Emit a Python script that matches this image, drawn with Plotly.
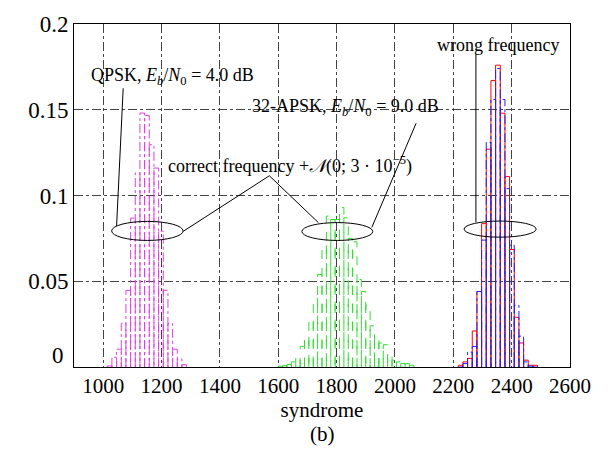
import plotly.graph_objects as go

# ---------------- data ----------------
qpsk_centers = [1022, 1038, 1054, 1070, 1086, 1102, 1118, 1134, 1150, 1166, 1182, 1198, 1214, 1230, 1246, 1262, 1278]
qpsk_values = [0.0006, 0.0057, 0.0104, 0.0255, 0.0447, 0.0868, 0.1132, 0.1481, 0.1466, 0.1296, 0.1160,
               0.0792, 0.0447, 0.0255, 0.0104, 0.0047, 0.0013]
qpsk_width = 16

apsk_centers = [1607.5 + 15 * i for i in range(31)]
apsk_values = [0.0005, 0.0008, 0.0015, 0.003, 0.006, 0.012, 0.018, 0.028, 0.040, 0.054, 0.071,
               0.088, 0.086, 0.086, 0.093, 0.087, 0.075, 0.073, 0.051, 0.044, 0.036, 0.024,
               0.017, 0.014, 0.013, 0.007, 0.004, 0.003, 0.002, 0.002, 0.001]
apsk_width = 15

wrong_centers = [2225, 2241, 2257, 2273, 2289, 2305, 2321, 2337, 2353, 2369, 2385, 2401, 2417, 2433, 2449, 2465, 2481]
wrong_red = [0.001, 0.003, 0.005, 0.021, 0.044, 0.0836, 0.127, 0.167, 0.176, 0.148, 0.111, 0.0685,
             0.029, 0.014, 0.004, 0.001, 0.001]
wrong_blue = [0.0, 0.002, 0.0087, 0.012, 0.044, 0.074, 0.131, 0.156, 0.174, 0.156, 0.104, 0.071,
              0.036, 0.018, 0.003, 0.0005, 0.0]
wrong_width = 16

x_ticks = [1000, 1200, 1400, 1600, 1800, 2000, 2200, 2400, 2600]
y_ticks = [0, 0.05, 0.1, 0.15, 0.2]
y_ticktext = ["", "0.05", "0.1", "0.15", "0.2"]


def outline(centers, values, width):
    xs, ys = [], []
    for c, v in zip(centers, values):
        l, r = c - width / 2, c + width / 2
        xs += [l, l, r, r, None]
        ys += [0, v, v, 0, None]
    return xs, ys


fig = go.Figure()

for centers, values, width, color, dash in [
    (qpsk_centers, qpsk_values, qpsk_width, "#e040e0", "dashdot"),
    (apsk_centers, apsk_values, apsk_width, "#33dd33", "dash"),
    (wrong_centers, wrong_red, wrong_width, "#ff0000", "solid"),
    (wrong_centers, wrong_blue, wrong_width, "#2020ff", "dashdot"),
]:
    xs, ys = outline(centers, values, width)
    fig.add_trace(go.Scatter(x=xs, y=ys, mode="lines",
                             line=dict(color=color, width=1, dash=dash),
                             hoverinfo="skip", showlegend=False))

FONT = "Liberation Serif"
ann_font = dict(family=FONT, size=18, color="black")
xtick_font = dict(family=FONT, size=21, color="black")
ytick_font = dict(family=FONT, size=23, color="black")

# annotation ellipses (data coords)
ellipses = [(1029, 1274, 0.0738, 0.0849), (1681, 1924, 0.0738, 0.0842), (2237, 2484, 0.0757, 0.0851)]
for x0, x1, y0, y1 in ellipses:
    fig.add_shape(type="circle", xref="x", yref="y", x0=x0, x1=x1, y0=y0, y1=y1,
                  line=dict(color="black", width=1))

# leader lines
leaders = [
    [(1068.6, 0.1625), (1046, 0.0823)],
    [(1274.4, 0.0791), (1569.5, 0.1115), (1737.6, 0.0842)],
    [(1920.7, 0.0814), (2072.6, 0.1421)],
    [(2277.5, 0.1823), (2277.5, 0.0844)],
]
for pts in leaders:
    for (xa, ya), (xb, yb) in zip(pts[:-1], pts[1:]):
        fig.add_shape(type="line", xref="x", yref="y", x0=xa, y0=ya, x1=xb, y1=yb,
                      line=dict(color="black", width=1))

fig.add_annotation(x=1238, y=0.1693, xref="x", yref="y", showarrow=False, font=ann_font,
                   text="QPSK, <i>E<sub>b</sub></i>/<i>N</i><sub>0</sub> = 4.0 dB")
fig.add_annotation(x=1829, y=0.1512, xref="x", yref="y", showarrow=False, font=ann_font,
                   text="32-APSK, <i>E<sub>b</sub></i>/<i>N</i><sub>0</sub> = 9.0 dB")
fig.add_annotation(x=1217, y=0.1178, xref="x", yref="y", showarrow=False, font=ann_font,
                   xanchor="left",
                   text="correct frequency +<i>𝒩</i>(0; 3 · 10<sup>−5</sup>)")
fig.add_annotation(x=2354, y=0.188, xref="x", yref="y", showarrow=False, font=ann_font,
                   text="wrong frequency")

# "0" y tick label sits a little above the axis, as in the reference
fig.add_annotation(x=0, y=0, xref="paper", yref="y", showarrow=False, xanchor="right",
                   xshift=-8, yshift=12, text="0", font=ytick_font)

fig.add_annotation(x=0.5, y=-0.235, xref="paper", yref="paper", showarrow=False,
                   text="(b)", font=dict(family=FONT, size=21, color="black"))

fig.update_xaxes(range=[900, 2600], tickvals=x_ticks, showgrid=True, griddash="dashdot",
                 gridcolor="#444", gridwidth=1, showline=True, linecolor="black", linewidth=1,
                 mirror=True, zeroline=False, ticks="", tickfont=xtick_font,
                 title=dict(text="syndrome", font=dict(family=FONT, size=21, color="black"), standoff=4))
fig.update_yaxes(range=[0, 0.2], tickvals=y_ticks, ticktext=y_ticktext,
                 showgrid=True, griddash="dashdot",
                 gridcolor="#444", gridwidth=1, showline=True, linecolor="black", linewidth=1,
                 mirror=True, zeroline=False, ticks="", tickfont=ytick_font)

fig.update_layout(width=616, height=460, margin=dict(l=74, r=46, t=13, b=93),
                  plot_bgcolor="white", paper_bgcolor="white", showlegend=False)

fig.write_html("out.html")
